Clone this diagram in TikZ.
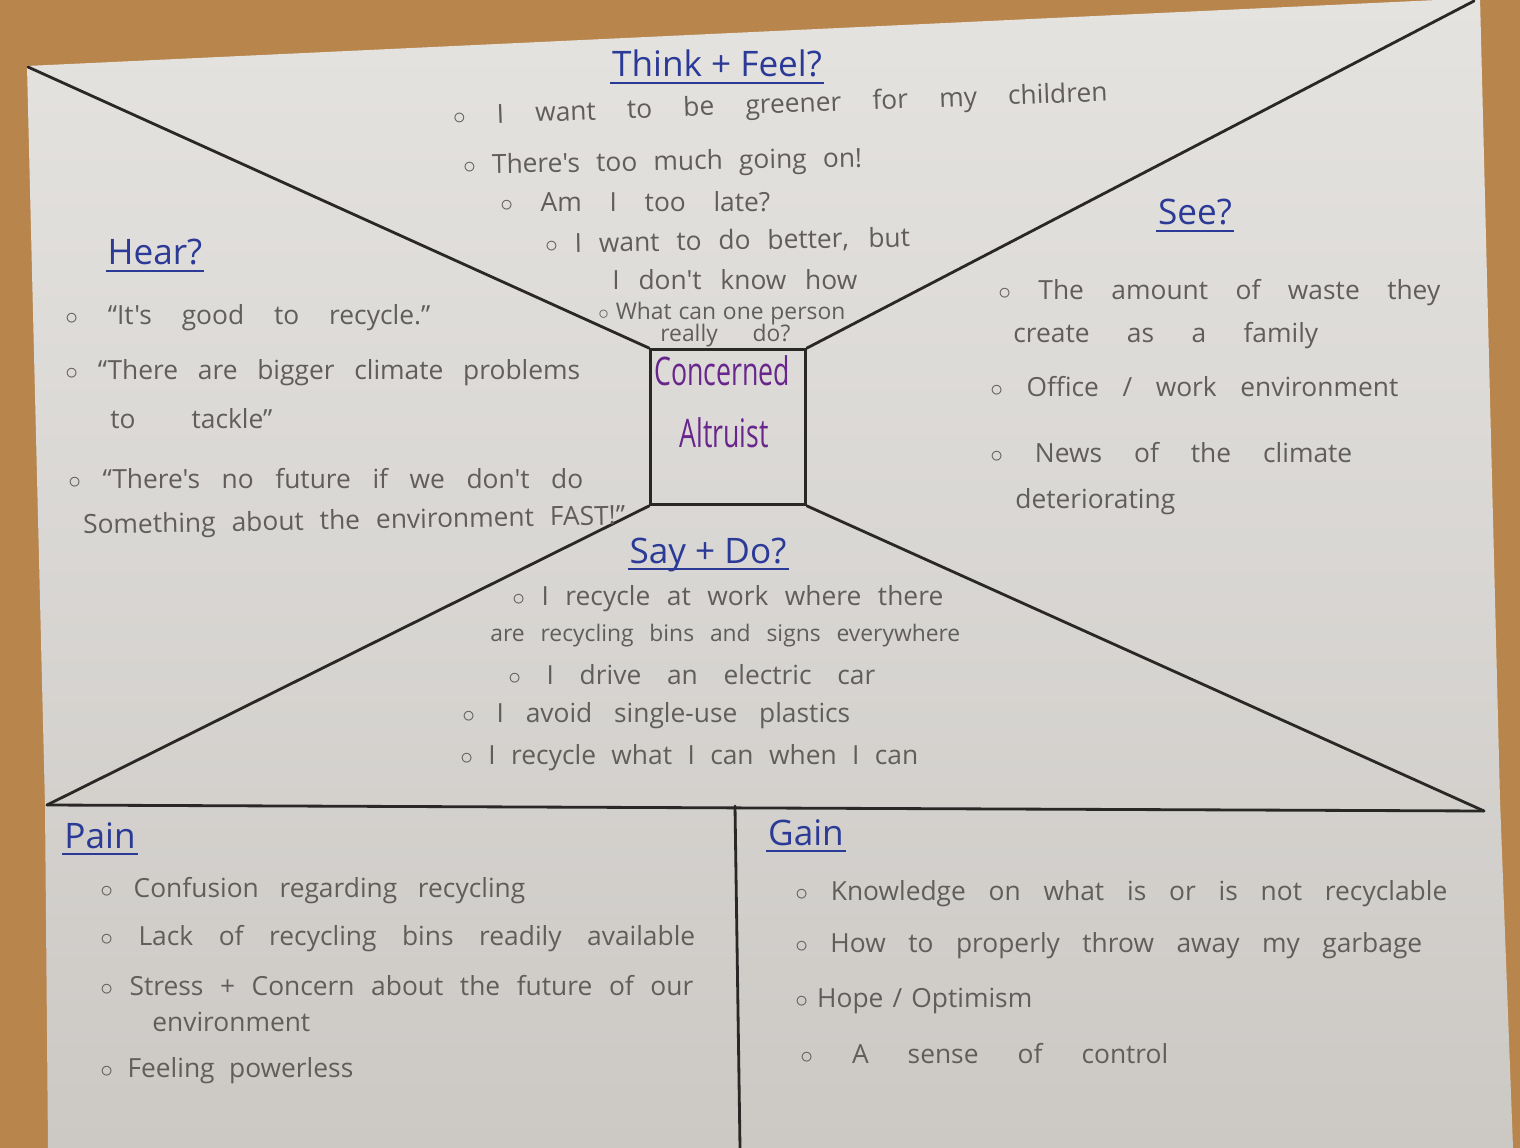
\documentclass[tikz,border=0pt]{standalone}
\usepackage{fontspec}
\usepackage{graphicx}
\usepackage{tikz}
\usetikzlibrary{positioning, calc}
\newfontfamily\hand{Open Sans}
\definecolor{wood}{RGB}{184,134,76}
\definecolor{papertop}{RGB}{229,227,224}
\definecolor{paperbot}{RGB}{204,201,197}
\definecolor{pencil}{RGB}{96,93,91}
\definecolor{inkblue}{RGB}{42,58,150}
\definecolor{inkpurple}{RGB}{104,38,140}
\definecolor{marker}{RGB}{42,40,38}
\newcommand{\bul}{$\circ$\ }
\newcommand{\spread}[2]{\makebox[#1cm][s]{#2}}
\newcommand{\tall}[1]{\scalebox{0.95}[1.4]{#1}}

\begin{document}
\begin{tikzpicture}[
  x=0.02cm, y=-0.02cm,
  edge/.style={draw=marker, line width=1.6pt, line cap=round},
  title/.style={anchor=base, font=\hand\fontsize{20}{24}\selectfont, text=inkblue, inner sep=1pt},
  uline/.style={draw=inkblue, line width=1.2pt},
  note/.style={anchor=base west, inner sep=0pt, font=\hand\fontsize{15}{18}\selectfont, text=pencil},
  small/.style={font=\hand\fontsize{13}{15}\selectfont},
  who/.style={anchor=base, font=\hand\fontsize{16}{20}\selectfont, text=inkpurple}
]
\useasboundingbox (0,0) rectangle (1520,1148);
% table and sheet
\fill[wood] (0,0) rectangle (1520,1148);
\shade[top color=papertop, bottom color=paperbot] (27,66) -- (1480,-2) -- (1500,800) -- (1513,1148) -- (48,1148) -- (45,805) -- cycle;

% Frame: persona box and the four diagonals
\node[draw=marker, line width=1.6pt, minimum width=3.1cm, minimum height=3.1cm] (persona) at (728,427) {};
\node[who] (name1) at (722,386) {\tall{Concerned}};
\node[who] (name2) at (724,447) {\tall{Altruist}};
\coordinate (cTL) at (28,67);
\coordinate (cTR) at (1474,1);
\coordinate (cBL) at (47,805);
\coordinate (cBR) at (1484,811);
\coordinate (mTop) at (735,806);
\coordinate (mBot) at (740,1148);
\draw[edge] (cTL) -- (persona.north west);
\draw[edge] (cTR) -- (persona.north east);
\draw[edge] (cBL) -- (persona.south west);
\draw[edge] (cBR) -- (persona.south east);
\draw[edge] (cBL) -- (cBR);
\draw[edge] (mTop) -- (mBot);

% Think + Feel
\node[title] (tfT) at (717,77) {Think + Feel?};
\draw[uline] ([yshift=-3.5pt]tfT.base west) -- ([yshift=-3.5pt]tfT.base east);
\node[note, rotate=2.1] (tf1) at (453,125) {\spread{13.1}{\bul I want to be greener for my children}};
\node[note, rotate=1] (tf2) at (463,174) {\spread{7.98}{\bul There's too much going on!}};
\node[note] (tf3) at (500,212) {\spread{5.4}{\bul Am I too late?}};
\node[note, rotate=1] (tf4) at (545,253) {\spread{7.3}{\bul I want to do better, but}};
\node[note] (tf5) at (612,290) {\spread{4.9}{I don't know how}};
\node[note, small] (tf6) at (598,320) {\spread{4.94}{\bul What can one person}};
\node[note, small] (tf7) at (660,342) {\spread{2.6}{really do?}};

% Hear
\node[title] (hrT) at (155,265) {Hear?};
\draw[uline] ([yshift=-3.5pt]hrT.base west) -- ([yshift=-3.5pt]hrT.base east);
\node[note] (hr1) at (65,325) {\spread{7.3}{\bul “It's good to recycle.”}};
\node[note] (hr2) at (65,380) {\spread{10.3}{\bul “There are bigger climate problems}};
\node[note] (hr3) at (110,428) {\spread{3.24}{to tackle”}};
\node[note] (hr4) at (68,488) {\spread{10.3}{\bul “There's no future if we don't do}};
\node[note, rotate=1] (hr5) at (83,534) {\spread{10.84}{Something about the environment FAST!”}};

% See
\node[title] (seT) at (1195,225) {See?};
\draw[uline] ([yshift=-3.5pt]seT.base west) -- ([yshift=-3.5pt]seT.base east);
\node[note] (se1) at (998,300) {\spread{8.84}{\bul The amount of waste they}};
\node[note] (se2) at (1013,343) {\spread{6.1}{create as a family}};
\node[note] (se3) at (990,397) {\spread{8.16}{\bul Office / work environment}};
\node[note] (se4) at (990,462) {\spread{7.24}{\bul News of the climate}};
\node[note] (se5) at (1015,508) {\spread{3.46}{deteriorating}};

% Say + Do
\node[title] (sdT) at (708,563) {Say + Do?};
\draw[uline] ([yshift=-3.5pt]sdT.base west) -- ([yshift=-3.5pt]sdT.base east);
\node[note] (sd1) at (512,605) {\spread{8.62}{\bul I recycle at work where there}};
\node[note, small] (sd2) at (490,641) {\spread{9.4}{are recycling bins and signs everywhere}};
\node[note] (sd3) at (508,684) {\spread{7.34}{\bul I drive an electric car}};
\node[note] (sd4) at (462,722) {\spread{7.76}{\bul I avoid single-use plastics}};
\node[note] (sd5) at (460,764) {\spread{9.16}{\bul I recycle what I can when I can}};

% Pain
\node[title] (pnT) at (100,848) {Pain};
\draw[uline] ([yshift=-3.5pt]pnT.base west) -- ([yshift=-3.5pt]pnT.base east);
\node[note] (pn1) at (100,897) {\spread{8.5}{\bul Confusion regarding recycling}};
\node[note] (pn2) at (100,945) {\spread{11.9}{\bul Lack of recycling bins readily available}};
\node[note] (pn3) at (100,995) {\spread{11.86}{\bul Stress + Concern about the future of our}};
\node[note] (pn4) at (152,1031) {\spread{3.0}{environment}};
\node[note] (pn5) at (100,1077) {\spread{5.06}{\bul Feeling powerless}};

% Gain
\node[title] (gnT) at (806,845) {Gain};
\draw[uline] ([yshift=-3.5pt]gnT.base west) -- ([yshift=-3.5pt]gnT.base east);
\node[note] (gn1) at (795,900) {\spread{13.04}{\bul Knowledge on what is or is not recyclable}};
\node[note] (gn2) at (795,952) {\spread{12.54}{\bul How to properly throw away my garbage}};
\node[note] (gn3) at (795,1007) {\spread{4.74}{\bul Hope / Optimism}};
\node[note] (gn4) at (800,1063) {\spread{7.36}{\bul A sense of control}};
\end{tikzpicture}
\end{document}
